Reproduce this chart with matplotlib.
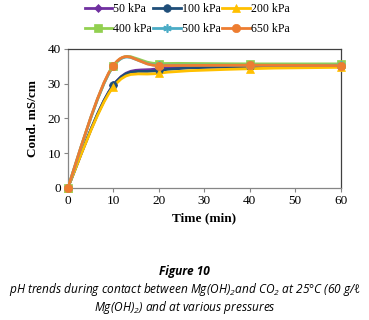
import numpy as np
import matplotlib
matplotlib.use("Agg")
import matplotlib.pyplot as plt
from matplotlib.path import Path
from matplotlib.patches import PathPatch
from matplotlib.lines import Line2D

time_min = [0, 10, 20, 40, 60]
series_names = ["50 kPa", "100 kPa", "200 kPa", "400 kPa", "500 kPa", "650 kPa"]
cond_50 = [0, 29.5, 34.3, 34.8, 35.0]
cond_100 = [0, 29.5, 33.8, 35.0, 35.0]
cond_200 = [0, 29.0, 33.0, 34.3, 34.7]
cond_400 = [0, 35.0, 35.8, 35.7, 35.7]
cond_500 = [0, 35.0, 35.3, 35.3, 35.3]
cond_650 = [0, 35.2, 35.2, 35.3, 35.2]
x_ticks = [0, 10, 20, 30, 40, 50, 60]
y_ticks = [0, 10, 20, 30, 40]

all_values = [cond_50, cond_100, cond_200, cond_400, cond_500, cond_650]
colors = ["#7030A0", "#1F4E79", "#FFC000", "#92D050", "#4BACC6", "#ED7D31"]
markers = ["D", "o", "^", "s", (6, 2, 0), "o"]
msizes = [4, 5.5, 5.5, 5.5, 6, 6]

plt.rcParams["font.family"] = ["Liberation Serif", "DejaVu Serif"]

fig = plt.figure(figsize=(3.69, 3.2), dpi=100)
ax = fig.add_axes([0.1835, 0.4134, 0.7395, 0.4336])


def smooth_path(xs, ys):
    pts = np.column_stack([xs, ys]).astype(float)
    n = len(pts)
    verts = [pts[0]]
    codes = [Path.MOVETO]
    for i in range(n - 1):
        p0 = pts[i - 1] if i > 0 else pts[i]
        p1 = pts[i]
        p2 = pts[i + 1]
        p3 = pts[i + 2] if i + 2 < n else pts[i + 1]
        c1 = p1 + (p2 - p0) / 6.0
        c2 = p2 - (p3 - p1) / 6.0
        verts += [c1, c2, p2]
        codes += [Path.CURVE4] * 3
    return Path(verts, codes)


for vals, c, m, ms in zip(all_values, colors, markers, msizes):
    patch = PathPatch(smooth_path(time_min, vals), facecolor="none", edgecolor=c,
                      lw=2.0, zorder=3, capstyle="round", joinstyle="round")
    ax.add_patch(patch)
    ax.plot(time_min, vals, linestyle="none", marker=m, color=c, markersize=ms,
            markeredgecolor=c, markeredgewidth=1.2 if m == (6, 2, 0) else 0.5,
            zorder=4, clip_on=False)

ax.set_xlim(0, 60)
ax.set_ylim(0, 40)
ax.set_xticks(x_ticks)
ax.set_yticks(y_ticks)
ax.tick_params(direction="out", length=3, width=0.8, color="#868686",
               labelsize=9.5, pad=2)
for s in ["left", "bottom"]:
    ax.spines[s].set_color("#868686")
    ax.spines[s].set_linewidth(0.9)
for s in ["top", "right"]:
    ax.spines[s].set_color("#404040")
    ax.spines[s].set_linewidth(0.9)
ax.set_xlabel("Time (min)", fontsize=9.5, fontweight="bold", labelpad=4)
ax.set_ylabel("Cond. mS/cm", fontsize=9.5, fontweight="bold", labelpad=6)

handles = [Line2D([0], [0], color=c, lw=2, marker=m, markersize=ms,
                  markeredgecolor=c, markeredgewidth=1.2 if m == (6, 2, 0) else 0.5)
           for c, m, ms in zip(colors, markers, msizes)]
order = [0, 3, 1, 4, 2, 5]
fig.legend([handles[i] for i in order], [series_names[i] for i in order],
           loc="upper center", bbox_to_anchor=(0.507, 1.017),
           ncol=3, frameon=False, fontsize=8.6, handlelength=2.3, handletextpad=0.1,
           columnspacing=0.1, labelspacing=0.65, borderpad=0.2)

cap_font = ["Open Sans", "DejaVu Sans"]
plt.rcParams["mathtext.fontset"] = "custom"
plt.rcParams["mathtext.rm"] = "Open Sans:italic"
plt.rcParams["mathtext.it"] = "Open Sans:italic"
fig.text(0.5, 1 - 272 / 320, "Figure 10", ha="center", va="center",
         fontsize=8.6, fontweight="bold", style="italic", family=cap_font)
fig.text(0.5, 1 - 290 / 320,
         "pH trends during contact between Mg(OH)$_2$and CO$_2$ at 25°C (60 g/ℓ",
         ha="center", va="center", fontsize=8.6, style="italic", family=cap_font)
fig.text(0.5, 1 - 308 / 320, "Mg(OH)$_2$) and at various pressures",
         ha="center", va="center", fontsize=8.6, style="italic", family=cap_font)

fig.savefig("out.png", dpi=100)
